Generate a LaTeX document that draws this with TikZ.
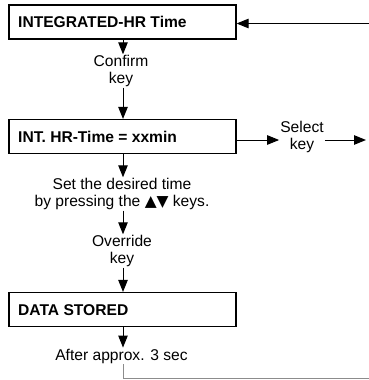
\documentclass[tikz,border=0pt]{standalone}
\usepackage{fontspec}
\setmainfont{Liberation Sans}
\newfontfamily\symfont{DejaVu Sans}
\usetikzlibrary{arrows.meta}
\begin{document}
\begin{tikzpicture}[x=1pt,y=-1pt,
  every node/.style={font=\fontsize{15.6}{16.5}\selectfont},
  box/.style={draw, line width=1.2pt, minimum width=227pt, minimum height=34pt, inner sep=0pt},
  boxtext/.style={anchor=west, inner sep=0pt, font=\fontsize{15.6}{16.5}\selectfont\bfseries},
  lbl/.style={align=center, inner sep=1pt},
  arr/.style={line width=1pt, -{Triangle[length=12pt,width=9.5pt]}},
  ln/.style={line width=1pt}]
\useasboundingbox (0,0) rectangle (368,380);
\node[box] (b1) at (122.5,22) {};
\node[boxtext] (t1) at (18,22) {INTEGRATED-HR Time};
\node[lbl] (confirm) at (121,71) {Confirm\\key};
\node[box] (b2) at (122.5,136.5) {};
\node[boxtext] (t2) at (18,137) {INT. HR-Time = xxmin};
\node[lbl] (select) at (302,137) {Select\\key};
\node[lbl] (set) at (122,194) {Set the desired time\\by pressing the {\symfont\fontsize{15.5}{16}\selectfont ▲▼} keys.};
\node[lbl] (override) at (122,251) {Override\\key};
\node[box] (b3) at (122.5,309.5) {};
\node[boxtext] (t3) at (18,310) {DATA STORED};
\node[lbl] (after) at (121.5,356) {After approx. 3 sec};
\coordinate (v) at (123,0);
\coordinate (e1) at (370,23.5);
\coordinate (e2) at (366,140);
\coordinate (c3) at (123,378);
\coordinate (e3) at (370,378);
\draw[arr] (e1) -- (b1.east |- e1);
\draw[arr] (b1.south -| v) -- (confirm.north -| v);
\draw[arr] (confirm.south -| v) -- (b2.north -| v);
\draw[arr] (b2.east |- e2) -- (select.west |- e2);
\draw[arr] (select.east |- e2) -- (e2);
\draw[arr] (b2.south -| v) -- (set.north -| v);
\draw[arr] (set.south -| v) -- (override.north -| v);
\draw[arr] (override.south -| v) -- (b3.north -| v);
\draw[arr] (b3.south -| v) -- (after.north -| v);
\draw[ln, draw=black!45] (after.south -| v) -- (c3) -- (e3);
\end{tikzpicture}
\end{document}
